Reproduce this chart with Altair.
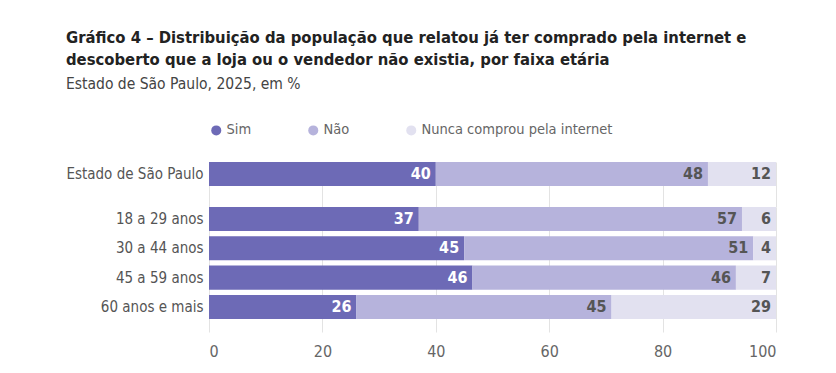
import altair as alt
import pandas as pd

categorias = ["Estado de São Paulo", "18 a 29 anos", "30 a 44 anos", "45 a 59 anos", "60 anos e mais"]
sim = [40, 37, 45, 46, 26]
nao = [48, 57, 51, 46, 45]
nunca = [12, 6, 4, 7, 29]
respostas = ["Sim", "Não", "Nunca comprou pela internet"]
cores = ["#6d6ab6", "#b6b3dc", "#e2e1f0"]
cores_texto = ["#ffffff", "#555555", "#555555"]

rows = []
for i, c in enumerate(categorias):
    for j, (r, v) in enumerate(zip(respostas, [sim[i], nao[i], nunca[i]])):
        rows.append({"categoria": c, "resposta": r, "valor": v, "ordem": j,
                     "cor_texto": cores_texto[j]})
df = pd.DataFrame(rows)

FONT = "DejaVu Sans Condensed, Roboto"


def painel(cats, altura, pad_outer, show_axis):
    base = alt.Chart(df).transform_filter(
        alt.FieldOneOfPredicate(field="categoria", oneOf=cats)
    ).transform_stack(
        stack="valor", groupby=["categoria"], as_=["x0", "x1"],
        offset="normalize", sort=[alt.SortField("ordem", order="ascending")]
    )
    y = alt.Y("categoria:N", sort=cats, title=None,
              scale=alt.Scale(domain=cats, paddingInner=0.18, paddingOuter=pad_outer,
                              align=0, round=False),
              axis=alt.Axis(domain=False, ticks=False, labelPadding=6,
                            labelFontSize=15, labelColor="#555555", labelFont=FONT,
                            labelLimit=300))
    if show_axis:
        xaxis = alt.Axis(values=[0, 0.2, 0.4, 0.6, 0.8, 1.0],
                         labelExpr="format(datum.value * 100, 'd')",
                         domain=False, ticks=False, grid=True, gridColor="#e3e3e3",
                         labelFontSize=16, labelColor="#666666", labelFont=FONT,
                         labelPadding=11, title=None)
    else:
        xaxis = alt.Axis(values=[0, 0.2, 0.4, 0.6, 0.8, 1.0], labels=False,
                         domain=False, ticks=False, grid=True, gridColor="#e3e3e3",
                         title=None)
    x = alt.X("x0:Q", scale=alt.Scale(domain=[0, 1], nice=False), axis=xaxis)
    bars = base.mark_bar().encode(
        y=y, x=x, x2="x1:Q",
        color=alt.Color("resposta:N", sort=respostas,
                        scale=alt.Scale(domain=respostas, range=cores),
                        legend=alt.Legend(title=None, orient="top", direction="horizontal",
                                          symbolType="circle", symbolSize=100,
                                          labelFontSize=14.5, labelColor="#666666",
                                          labelFont=FONT, columnPadding=54,
                                          labelOffset=3, offset=25, labelLimit=400)),
    )
    text = base.mark_text(align="right", dx=-5, fontSize=16, fontWeight="bold",
                          font=FONT).encode(
        y=alt.Y("categoria:N", sort=cats, scale=alt.Scale(domain=cats)),
        x=alt.X("x1:Q"),
        text=alt.Text("valor:Q"),
        color=alt.Color("cor_texto:N", scale=None),
    )
    return alt.layer(bars, text).properties(width=567, height=altura)


topo = painel(categorias[:1], 45, 0.359, False)
fundo = painel(categorias[1:], 125, 0.223, True)

chart = alt.vconcat(topo, fundo, spacing=0, bounds="flush").properties(
    title=alt.TitleParams(
        text=["Gráfico 4 – Distribuição da população que relatou já ter comprado pela internet e",
              "descoberto que a loja ou o vendedor não existia, por faixa etária"],
        subtitle="Estado de São Paulo, 2025, em %",
        anchor="start", frame="bounds", font=FONT, fontSize=16.5, fontWeight="bold",
        color="#222222", lineHeight=22, subtitleFont=FONT, subtitleFontSize=15.5,
        subtitleColor="#444444", subtitlePadding=8, offset=31),
    padding={"left": 57, "top": 22, "right": 5, "bottom": 5},
).configure_view(stroke=None).resolve_scale(color="shared")

chart.save("out.html", embed_options={"renderer": "svg", "actions": False})
